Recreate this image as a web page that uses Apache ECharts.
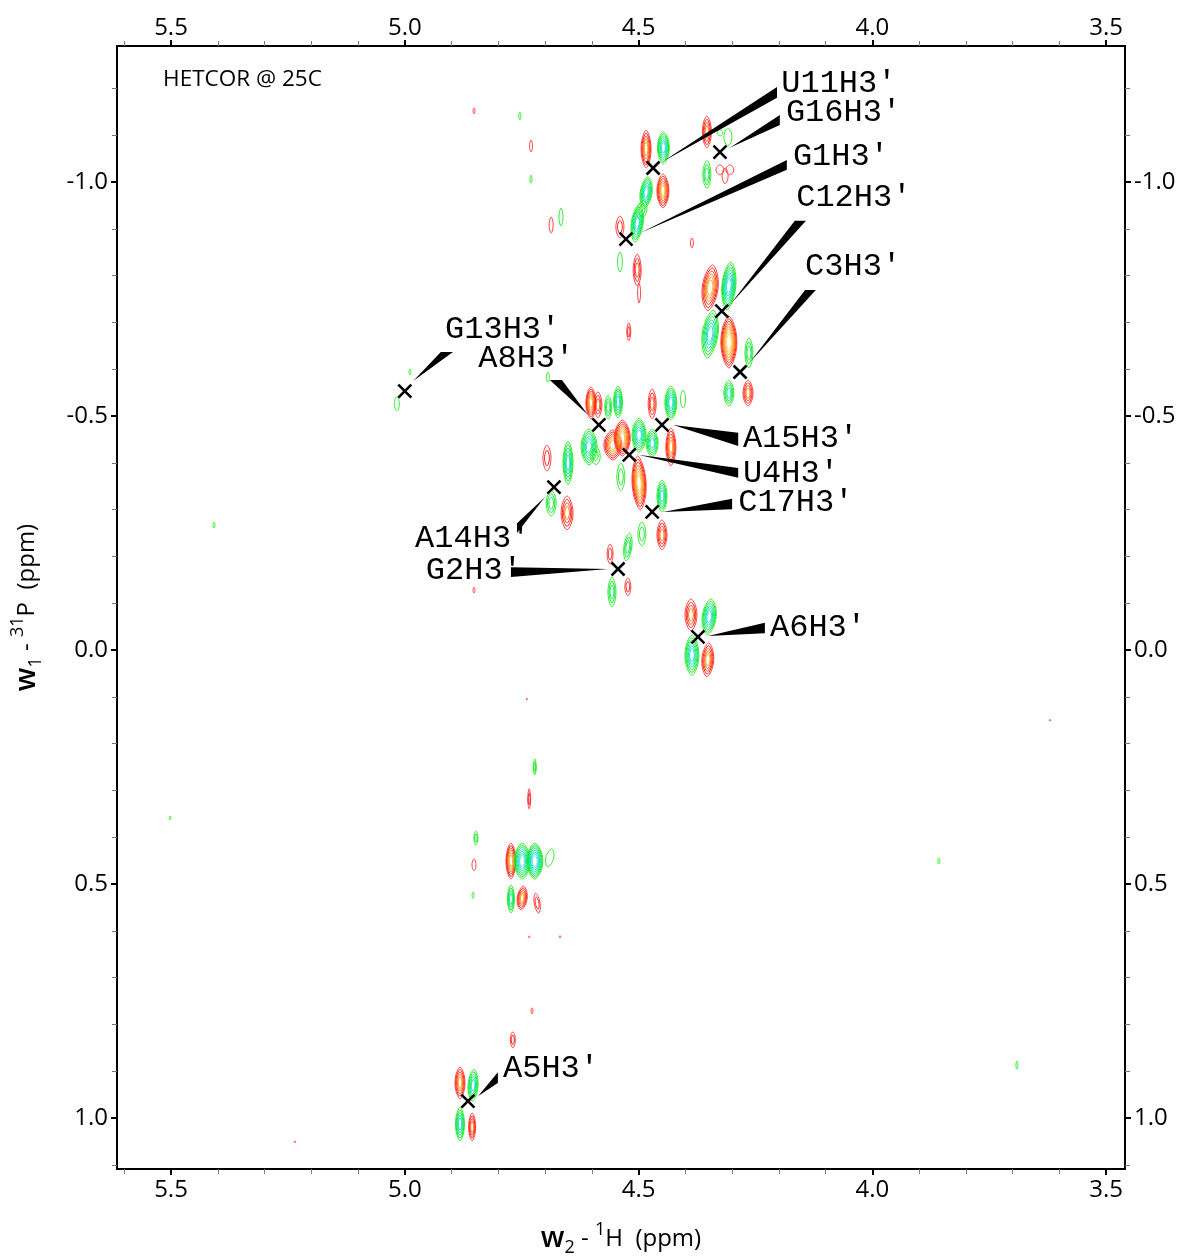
<!DOCTYPE html>
<html><head><meta charset="utf-8">
<style>html,body{margin:0;padding:0;background:#fff}#c{width:1185px;height:1257px}</style>
<script src="https://cdn.jsdelivr.net/npm/echarts@6/dist/echarts.min.js"></script>
</head><body><div id="c"></div>
<script>
const xMajorTicks = [5.5, 5.0, 4.5, 4.0, 3.5];
const xMinorTicks = [5.6,5.4,5.3,5.2,5.1,4.9,4.8,4.7,4.6,4.4,4.3,4.2,4.1,3.9,3.8,3.7,3.6];
const yMajorTicks = [-1.0, -0.5, 0.0, 0.5, 1.0];
const yMinorTicks = [-1.2,-1.1,-0.9,-0.8,-0.7,-0.6,-0.4,-0.3,-0.2,-0.1,0.1,0.2,0.3,0.4,0.6,0.7,0.8,0.9,1.1];
const redLevels = ['#ff4040','#ff1818','#ff3c10','#ff7010','#ff9020','#ffa830','#ffc050','#ffd880'];
const greenLevels = ['#30f030','#10e820','#10e860','#10e890','#10e0b0','#20e0c8','#40e0d8','#70e8e0'];
// peak: [w2 ppm, w1 ppm, half width ppm, half height ppm, tilt, contour levels]
const positivePeaks = [
 [4.484,-1.0705,.0107,.0406,0,5],[4.448,-.981,.0128,.0363,0,6],[4.354,-1.107,.0096,.0342,0,4],
 [4.326,-1.026,.0086,.0107,0,1],[4.305,-1.026,.0086,.0107,0,1],[4.315,-1.013,.0064,.0171,0,1],
 [4.540,-.904,.0086,.0235,0,2],[4.503,-.812,.0086,.0342,0,3],
 [4.499,-.763,.0032,.0214,0,1],[4.386,-.870,.0032,.0107,0,1],[4.347,-.774,.0171,.0492,.1,6],
 [4.307,-.658,.0171,.0556,0,8],[4.521,-.680,.0043,.0192,0,2],[4.266,-.549,.0107,.0278,0,4],
 [4.602,-.528,.0107,.0342,0,6],[4.587,-.524,.0086,.0278,0,3],[4.471,-.526,.0086,.0321,0,3],
 [4.431,-.434,.0107,.0406,0,5],[4.555,-.438,.0192,.0321,0,6],[4.535,-.453,.0171,.0385,0,7],
 [4.499,-.357,.0150,.0577,-.05,7],[4.450,-.246,.0107,.0321,0,4],[4.561,-.205,.0064,.0214,0,2],
 [4.523,-.135,.0064,.0192,0,2],[4.696,-.410,.0086,.0278,0,2],[4.653,-.293,.0128,.0363,0,4],
 [4.388,-.075,.0128,.0342,0,4],[4.352,.021,.0128,.0363,.05,5],
 [4.882,.925,.0107,.0342,0,5],[4.856,1.019,.0075,.0299,0,4],[4.769,.833,.0054,.0171,0,2],
 [4.734,.318,.0032,.0214,0,2],[4.852,.459,.0043,.0128,0,1],[4.773,.451,.0107,.0385,0,6],
 [4.749,.530,.0107,.0256,.1,5],[4.717,.541,.0064,.0214,-.15,2],[4.734,.613,.0015,.0021,0,1],[4.668,.613,.0021,.0021,0,1],
 [4.852,-1.152,.0021,.0064,0,1],[4.730,-1.077,.0032,.0128,0,1],[4.687,-.908,.0043,.0171,0,1],
 [4.852,-.128,.0021,.0064,0,1],[4.739,.105,.0011,.0021,0,1],[3.620,.150,.0021,.0011,0,1],
 [4.728,.771,.0021,.0064,0,1],[5.235,1.051,.0021,.0011,0,1]
];
const negativePeaks = [
 [4.447,-1.073,.0128,.0342,0,6],[4.484,-.977,.0128,.0342,.12,6],[4.503,-.912,.0128,.0406,.12,6],
 [4.493,-.940,.0107,.0214,.15,2],[4.326,-1.105,.0064,.0064,0,1],[4.309,-1.096,.0086,.0192,0,1],[4.354,-1.016,.0086,.0299,0,3],
 [4.540,-.829,.0054,.0214,0,1],[4.307,-.778,.0150,.0513,.08,7],[4.347,-.675,.0171,.0513,.12,6],
 [4.264,-.635,.0086,.0321,0,3],[4.307,-.549,.0107,.0278,0,4],
 [4.565,-.519,.0075,.0256,0,3],[4.544,-.530,.0096,.0342,0,5],[4.606,-.434,.0171,.0385,0,6],
 [4.593,-.417,.0107,.0214,-.1,2],[4.431,-.528,.0128,.0363,0,6],[4.405,-.536,.0054,.0192,0,1],
 [4.499,-.459,.0150,.0363,0,6],[4.471,-.442,.0128,.0299,0,5],[4.538,-.370,.0086,.0299,0,2],
 [4.450,-.329,.0107,.0342,0,5],[4.651,-.400,.0107,.0470,0,5],[4.687,-.314,.0107,.0278,0,3],
 [4.523,-.220,.0086,.0299,.12,3],[4.493,-.248,.0086,.0256,0,2],[4.557,-.124,.0086,.0321,0,3],
 [4.694,-.583,.0032,.0107,0,1],[4.349,-.071,.0150,.0385,.1,6],[4.386,.011,.0150,.0428,0,6],
 [4.854,.930,.0107,.0342,.05,5],[4.882,1.013,.0096,.0363,0,5],
 [4.722,.250,.0032,.0171,0,2],[4.848,.402,.0043,.0150,0,2],[4.854,.524,.0021,.0064,0,1],
 [4.749,.451,.0171,.0385,0,7],[4.722,.451,.0171,.0385,0,8],[4.690,.444,.0086,.0192,.2,1],
 [4.773,.532,.0075,.0299,0,4],[4.754,-1.141,.0021,.0086,0,1],[4.730,-1.006,.0021,.0086,0,1],
 [4.666,-.925,.0043,.0192,0,1],[4.989,-.594,.0021,.0064,0,1],[5.017,-.526,.0054,.0150,0,1],
 [5.408,-.267,.0021,.0064,0,1],[5.502,.359,.0017,.0043,0,1],[3.858,.451,.0021,.0064,0,1],[3.691,.887,.0021,.0086,0,1]
];
const crossPoints = [
 [4.469,-1.030],[4.326,-1.064],[4.527,-.878],[4.322,-.724],[4.283,-.594],[5.000,-.553],[4.585,-.481],
 [4.450,-.481],[4.520,-.417],[4.681,-.348],[4.471,-.295],[4.544,-.173],[4.373,-.028],[4.865,.964]
];
// leader wedge: tip x, tip y, base1 x, base1 y, base2 x, base2 y (ppm)
const leaderWedges = [
 [4.450,-1.043,4.204,-1.203,4.204,-1.180],[4.305,-1.073,4.198,-1.143,4.198,-1.122],
 [4.497,-.891,4.183,-1.047,4.183,-1.026],[4.305,-.737,4.166,-.917,4.142,-.917],
 [4.262,-.615,4.144,-.769,4.121,-.769],[4.982,-.575,4.923,-.637,4.897,-.637],
 [4.608,-.502,4.690,-.577,4.664,-.577],[4.426,-.481,4.287,-.464,4.287,-.436],
 [4.501,-.417,4.287,-.389,4.287,-.368],[4.448,-.295,4.300,-.323,4.300,-.301],
 [4.700,-.327,4.760,-.271,4.760,-.250],[4.565,-.173,4.773,-.177,4.773,-.156],
 [4.352,-.030,4.230,-.058,4.230,-.036],[4.843,.953,4.801,.902,4.801,.925]
];
const peakNames = ["U11H3'","G16H3'","G1H3'","C12H3'","C3H3'","G13H3'","A8H3'","A15H3'","U4H3'","C17H3'","A14H3'","G2H3'","A6H3'","A5H3'"];
const peakNameSpots = [
 [4.195,-1.212],[4.185,-1.150],[4.170,-1.056],[4.163,-.968],[4.144,-.821],[4.914,-.686],[4.843,-.624],
 [4.277,-.453],[4.277,-.380],[4.287,-.318],[4.978,-.241],[4.955,-.171],[4.219,-.051],[4.790,.893]
];
const plotTitle = 'HETCOR @ 25C';
const plotTitleSpot = [[5.517,-1.222]];

const sansFont = '"Open Sans"';
function contourSeries(data, palette) {
  return {
    type: 'custom', data, silent: true, clip: true, encode: {x: 0, y: 1},
    renderItem(params, api) {
      const c = api.coord([api.value(0), api.value(1)]);
      const s = api.size([api.value(2), api.value(3)]);
      const tilt = api.value(4), n = api.value(5);
      const children = [];
      for (let i = 0; i < n; i++) {
        const k = 1 - 0.8 * i / Math.max(n, 2);
        const pts = [];
        for (let a = 0; a < 28; a++) {
          const t = a / 28 * 2 * Math.PI, co = Math.cos(t), si = Math.sin(t);
          const px = s[0] * k * Math.sign(co) * Math.pow(Math.abs(co), 1.4);
          const py = s[1] * k * si;
          pts.push([c[0] + px - tilt * py, c[1] + py]);
        }
        const idx = n < 3 ? i : Math.round(i * (palette.length - 1) / Math.max(n - 1, 7));
        children.push({type: 'polygon', shape: {points: pts},
          style: {fill: 'none', stroke: palette[idx], lineWidth: 1}});
      }
      return {type: 'group', children};
    }
  };
}
const wedgeSeries = {
  type: 'custom', data: leaderWedges, silent: true, encode: {x: [0, 2, 4], y: [1, 3, 5]},
  renderItem(params, api) {
    return {type: 'polygon', shape: {points: [
      api.coord([api.value(0), api.value(1)]),
      api.coord([api.value(2), api.value(3)]),
      api.coord([api.value(4), api.value(5)])]}, style: {fill: '#000'}};
  }
};
const crossSeries = {
  type: 'custom', data: crossPoints, silent: true, encode: {x: 0, y: 1},
  renderItem(params, api) {
    const c = api.coord([api.value(0), api.value(1)]), r = 6.5;
    const st = {stroke: '#000', lineWidth: 2.6, fill: 'none'};
    return {type: 'group', children: [
      {type: 'line', shape: {x1: c[0]-r, y1: c[1]-r, x2: c[0]+r, y2: c[1]+r}, style: st},
      {type: 'line', shape: {x1: c[0]-r, y1: c[1]+r, x2: c[0]+r, y2: c[1]-r}, style: st}]};
  }
};
function textSeries(data, names, font, size) {
  return {
    type: 'custom', data, silent: true, encode: {x: 0, y: 1},
    renderItem(params, api) {
      const c = api.coord([api.value(0), api.value(1)]);
      return {type: 'text', x: c[0], y: c[1] + 1, style: {text: names[params.dataIndex], fontFamily: font,
        fontSize: size, fill: '#000', align: 'left', verticalAlign: 'middle'}};
    }
  };
}
const xRange = {min: 3.4598, max: 5.6155, inverse: true, type: 'value', splitLine: {show: false}};
const yRange = {min: -1.2906, max: 1.109, inverse: true, type: 'value', splitLine: {show: false}};
const axisLine = {show: true, onZero: false, lineStyle: {color: '#000', width: 2}};
const hiddenLine = {show: false, onZero: false};
const majorLabel = {show: true, fontFamily: sansFont, fontSize: 24, color: '#000', margin: 9, hideOverlap: false,
  showMinLabel: true, showMaxLabel: true, formatter: v => v.toFixed(1)};
function xAxisPair(position, extra) {
  return [
    Object.assign({}, xRange, {position, axisLine,
      axisTick: {show: true, length: 6, lineStyle: {color: '#000', width: 2}, customValues: xMajorTicks},
      axisLabel: Object.assign({}, majorLabel, {customValues: xMajorTicks, margin: position === 'top' ? 6 : 9})}, extra),
    Object.assign({}, xRange, {position, axisLine: hiddenLine,
      axisTick: {show: true, length: 5, lineStyle: {color: '#777', width: 1}, customValues: xMinorTicks},
      axisLabel: {show: false}})
  ];
}
function yAxisPair(position, extra) {
  return [
    Object.assign({}, yRange, {position, axisLine,
      axisTick: {show: true, length: 6, lineStyle: {color: '#000', width: 2}, customValues: yMajorTicks},
      axisLabel: Object.assign({}, majorLabel, {customValues: yMajorTicks, padding: [6, 0, 0, 0]})}, extra),
    Object.assign({}, yRange, {position, axisLine: hiddenLine,
      axisTick: {show: true, length: 5, lineStyle: {color: '#777', width: 1}, customValues: yMinorTicks},
      axisLabel: {show: false}})
  ];
}
const nameRich = {
  w: {fontFamily: sansFont, fontSize: 29, fontWeight: 600, color: '#000', lineHeight: 36},
  n: {fontFamily: sansFont, fontSize: 24, color: '#000', lineHeight: 36},
  sub: {fontFamily: sansFont, fontSize: 18, color: '#000', lineHeight: 36, verticalAlign: 'bottom'},
  sup: {fontFamily: sansFont, fontSize: 18, color: '#000', lineHeight: 36, verticalAlign: 'top'}
};
const chart = echarts.init(document.getElementById('c'), null, {renderer: 'canvas'});
chart.setOption({
  animation: false,
  backgroundColor: '#fff',
  grid: {left: 117, right: 60, top: 46, bottom: 88, containLabel: false, outerBoundsMode: 'none'},
  xAxis: [
    ...xAxisPair('bottom', {name: '{w|w}{sub|2}{n| - }{sup|1}{n|H  (ppm)}', nameLocation: 'middle', nameGap: 52,
      nameTextStyle: {rich: nameRich}}),
    ...xAxisPair('top', {})
  ],
  yAxis: [
    ...yAxisPair('left', {name: '{w|w}{sub|1}{n| - }{sup|31}{n|P  (ppm)}', nameLocation: 'middle', nameGap: 72, nameRotate: 90,
      nameTextStyle: {rich: nameRich}}),
    ...yAxisPair('right', {})
  ],
  series: [
    contourSeries(positivePeaks, redLevels),
    contourSeries(negativePeaks, greenLevels),
    wedgeSeries,
    crossSeries,
    textSeries(peakNameSpots, peakNames, '"Liberation Mono"', 32),
    textSeries(plotTitleSpot, [plotTitle], sansFont, 22.5)
  ]
});
</script></body></html>
